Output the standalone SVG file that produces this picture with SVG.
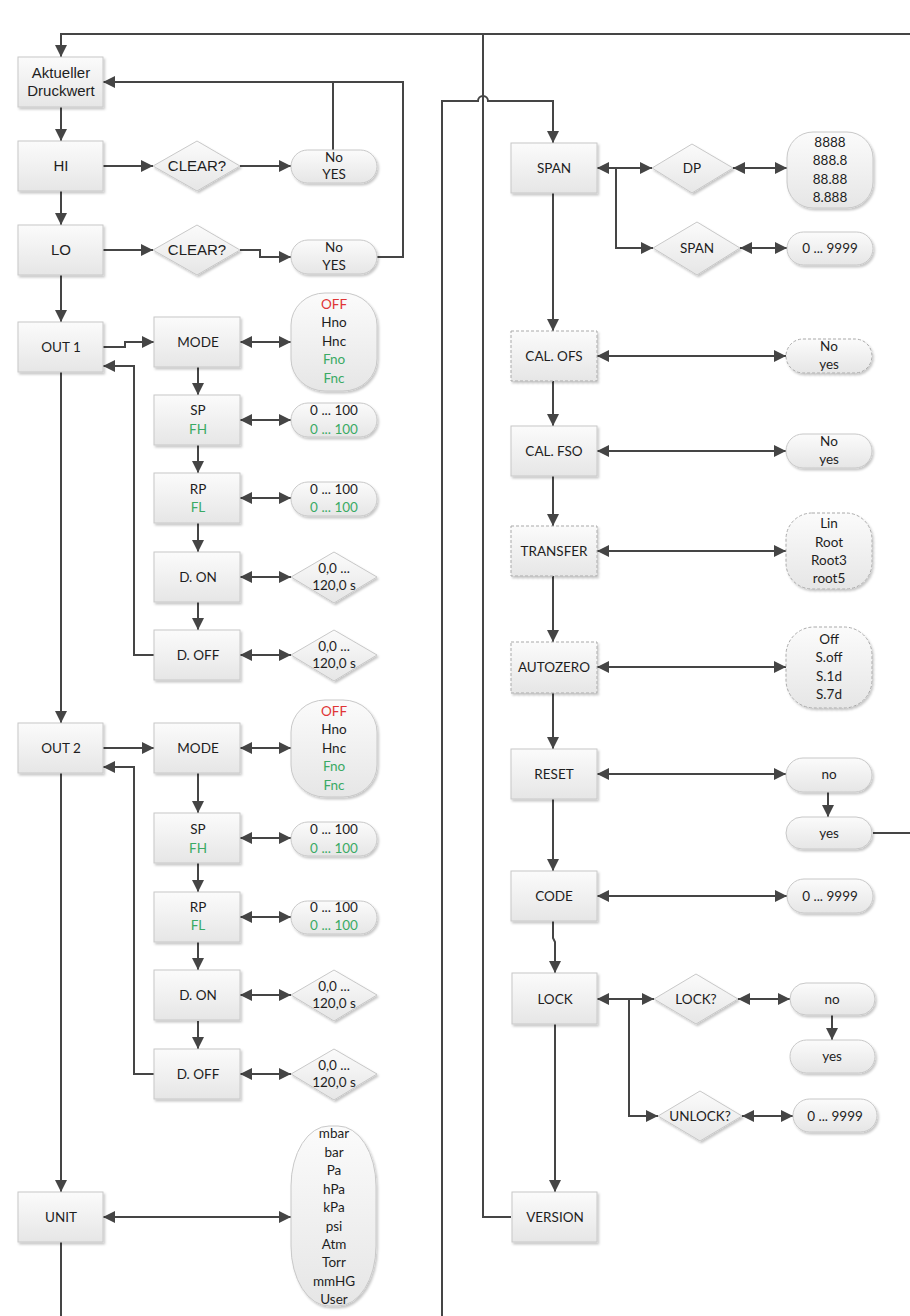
<svg xmlns="http://www.w3.org/2000/svg" width="910" height="1316" viewBox="0 0 910 1316">
<defs>
<linearGradient id="g" x1="0" y1="0" x2="0" y2="1"><stop offset="0" stop-color="#fbfbfb"/><stop offset="1" stop-color="#e6e6e6"/></linearGradient>
<filter id="sh" x="-10%" y="-10%" width="130%" height="140%"><feDropShadow dx="1.5" dy="2" stdDeviation="1.2" flood-color="#000" flood-opacity="0.22"/></filter>
<marker id="ah" viewBox="0 0 10 10" refX="10" refY="5" markerWidth="12" markerHeight="12" orient="auto-start-reverse" markerUnits="userSpaceOnUse"><path d="M0,0 L10,5 L0,10 z" fill="#454545"/></marker>
<style>
.b{fill:url(#g);stroke:#c8c8c8;stroke-width:1;filter:url(#sh)}
.d{stroke-dasharray:3 2;stroke:#aaa}
.c path{fill:none;stroke:#454545;stroke-width:2}
.t{font-family:Lato,"Open Sans",sans-serif;font-size:13.5px;fill:#1e1e1e;text-anchor:middle}
.a{font-family:"Liberation Sans",Arial,sans-serif;font-size:15px;fill:#1e1e1e;text-anchor:middle}
.r{fill:#e03535}
.gr{fill:#3aaa64}
</style>
</defs>
<g class="c" id="connectors">
<path d="M910,34 H61 V57" marker-end="url(#ah)"/>
<path d="M483,34 V1217 H511"/>
<path d="M442,1316 V101 H478 A5,5 0 0 1 488,101 H553 V143" marker-end="url(#ah)"/>
<path d="M61,107 V141" marker-end="url(#ah)"/>
<path d="M61,191 V225" marker-end="url(#ah)"/>
<path d="M61,275 V322" marker-end="url(#ah)"/>
<path d="M61,372 V723" marker-end="url(#ah)"/>
<path d="M61,773 V1192" marker-end="url(#ah)"/>
<path d="M61,1242 V1316"/>
<path d="M103,166 H153" marker-end="url(#ah)"/>
<path d="M240,166 H291" marker-end="url(#ah)"/>
<path d="M103,250 H153" marker-end="url(#ah)"/>
<path d="M240,250 H260 V257 H291" marker-end="url(#ah)"/>
<path d="M333,150 V82"/>
<path d="M377,257 H403 V82 H103" marker-end="url(#ah)"/>
<path d="M103,347 H125 V342 H154" marker-end="url(#ah)"/>
<path d="M154,655 H134 V366 H103" marker-end="url(#ah)"/>
<path d="M103,748 H154" marker-end="url(#ah)"/>
<path d="M154,1074 H134 V767 H103" marker-end="url(#ah)"/>
<path d="M240,342 H291" marker-start="url(#ah)" marker-end="url(#ah)"/>
<path d="M198,367 V395" marker-end="url(#ah)"/>
<path d="M240,420 H291" marker-start="url(#ah)" marker-end="url(#ah)"/>
<path d="M198,445 V473" marker-end="url(#ah)"/>
<path d="M240,498 H291" marker-start="url(#ah)" marker-end="url(#ah)"/>
<path d="M198,523 V552" marker-end="url(#ah)"/>
<path d="M240,577 H291" marker-start="url(#ah)" marker-end="url(#ah)"/>
<path d="M198,602 V630" marker-end="url(#ah)"/>
<path d="M240,655 H291" marker-start="url(#ah)" marker-end="url(#ah)"/>
<path d="M240,748 H291" marker-start="url(#ah)" marker-end="url(#ah)"/>
<path d="M198,773 V813" marker-end="url(#ah)"/>
<path d="M240,838 H291" marker-start="url(#ah)" marker-end="url(#ah)"/>
<path d="M198,863 V892" marker-end="url(#ah)"/>
<path d="M240,917 H291" marker-start="url(#ah)" marker-end="url(#ah)"/>
<path d="M198,942 V970" marker-end="url(#ah)"/>
<path d="M240,995 H291" marker-start="url(#ah)" marker-end="url(#ah)"/>
<path d="M198,1021 V1049" marker-end="url(#ah)"/>
<path d="M240,1074 H291" marker-start="url(#ah)" marker-end="url(#ah)"/>
<path d="M103,1217 H291" marker-start="url(#ah)" marker-end="url(#ah)"/>
<path d="M616,168 H597" marker-end="url(#ah)"/>
<path d="M616,168 H652" marker-end="url(#ah)"/>
<path d="M616,168 V248 H653" marker-end="url(#ah)"/>
<path d="M733,168 H787" marker-start="url(#ah)" marker-end="url(#ah)"/>
<path d="M740,248 H787" marker-start="url(#ah)" marker-end="url(#ah)"/>
<path d="M553,193 V331" marker-end="url(#ah)"/>
<path d="M597,356 H786" marker-start="url(#ah)" marker-end="url(#ah)"/>
<path d="M553,381 V426" marker-end="url(#ah)"/>
<path d="M597,451 H786" marker-start="url(#ah)" marker-end="url(#ah)"/>
<path d="M553,476 V526" marker-end="url(#ah)"/>
<path d="M597,551 H786" marker-start="url(#ah)" marker-end="url(#ah)"/>
<path d="M553,576 V642" marker-end="url(#ah)"/>
<path d="M597,667 H786" marker-start="url(#ah)" marker-end="url(#ah)"/>
<path d="M553,693 V749" marker-end="url(#ah)"/>
<path d="M597,774 H786" marker-start="url(#ah)" marker-end="url(#ah)"/>
<path d="M828,792 V817" marker-end="url(#ah)"/>
<path d="M873,833 H910"/>
<path d="M553,799 V871" marker-end="url(#ah)"/>
<path d="M597,896 H787" marker-start="url(#ah)" marker-end="url(#ah)"/>
<path d="M553,921 V938 L555,942 V973" marker-end="url(#ah)"/>
<path d="M629,999 H597" marker-end="url(#ah)"/>
<path d="M629,999 H654" marker-end="url(#ah)"/>
<path d="M629,999 V1116 H658" marker-end="url(#ah)"/>
<path d="M738,999 H790" marker-start="url(#ah)" marker-end="url(#ah)"/>
<path d="M832,1015 V1040" marker-end="url(#ah)"/>
<path d="M742,1116 H793" marker-start="url(#ah)" marker-end="url(#ah)"/>
<path d="M555,1024 V1192" marker-end="url(#ah)"/>
</g>

<g id="akt"><rect class="b" x="18" y="57" width="85" height="50"/><text class="a" x="61" y="78">Aktueller</text><text class="a" x="61" y="96">Druckwert</text></g>
<g id="hi"><rect class="b" x="18" y="141" width="85" height="50"/><text class="a" x="61" y="171">HI</text></g>
<g id="lo"><rect class="b" x="18" y="225" width="85" height="50"/><text class="a" x="61" y="255">LO</text></g>
<g id="clear1"><polygon class="b" points="153,166 197,141 240,166 197,191"/><text class="a" x="197" y="171">CLEAR?</text></g>
<g id="clear2"><polygon class="b" points="153,250 197,225 240,250 197,275"/><text class="a" x="197" y="255">CLEAR?</text></g>
<g id="noyes1"><rect class="b" x="291" y="150" width="86" height="33" rx="16.5"/><text class="t" x="334" y="162">No</text><text class="t" x="334" y="179">YES</text></g>
<g id="noyes2"><rect class="b" x="291" y="240" width="86" height="34" rx="17"/><text class="t" x="334" y="252">No</text><text class="t" x="334" y="270">YES</text></g>

<g id="out1"><rect class="b" x="18" y="322" width="85" height="50"/><text class="t" x="61" y="352">OUT 1</text></g>
<g id="mode1"><rect class="b" x="154" y="317" width="86" height="50"/><text class="t" x="198" y="347">MODE</text></g>
<g id="modes1"><rect class="b" x="291" y="293" width="86" height="98" rx="34" ry="32"/><text class="t r" x="334" y="309">OFF</text><text class="t" x="334" y="327">Hno</text><text class="t" x="334" y="346">Hnc</text><text class="t gr" x="334" y="364">Fno</text><text class="t gr" x="334" y="383">Fnc</text></g>
<g id="sp1"><rect class="b" x="154" y="395" width="86" height="50"/><text class="t" x="198" y="415">SP</text><text class="t gr" x="198" y="434">FH</text></g>
<g id="spv1"><rect class="b" x="291" y="403" width="86" height="34" rx="17"/><text class="t" x="334" y="415">0 ... 100</text><text class="t gr" x="334" y="434">0 ... 100</text></g>
<g id="rp1"><rect class="b" x="154" y="473" width="86" height="50"/><text class="t" x="198" y="494">RP</text><text class="t gr" x="198" y="512">FL</text></g>
<g id="rpv1"><rect class="b" x="291" y="482" width="86" height="34" rx="17"/><text class="t" x="334" y="494">0 ... 100</text><text class="t gr" x="334" y="512">0 ... 100</text></g>
<g id="don1"><rect class="b" x="154" y="552" width="86" height="50"/><text class="t" x="198" y="582">D. ON</text></g>
<g id="donv1"><polygon class="b" points="291,577 334,552 377,577 334,603"/><text class="t" x="334" y="573">0,0 ...</text><text class="t" x="334" y="590">120,0 s</text></g>
<g id="doff1"><rect class="b" x="154" y="630" width="86" height="50"/><text class="t" x="198" y="660">D. OFF</text></g>
<g id="doffv1"><polygon class="b" points="291,655 334,630 377,655 334,681"/><text class="t" x="334" y="651">0,0 ...</text><text class="t" x="334" y="668">120,0 s</text></g>

<g id="out2"><rect class="b" x="18" y="723" width="85" height="50"/><text class="t" x="61" y="753">OUT 2</text></g>
<g id="mode2"><rect class="b" x="154" y="723" width="86" height="50"/><text class="t" x="198" y="753">MODE</text></g>
<g id="modes2"><rect class="b" x="291" y="700" width="86" height="97" rx="34" ry="32"/><text class="t r" x="334" y="716">OFF</text><text class="t" x="334" y="734">Hno</text><text class="t" x="334" y="753">Hnc</text><text class="t gr" x="334" y="771">Fno</text><text class="t gr" x="334" y="790">Fnc</text></g>
<g id="sp2"><rect class="b" x="154" y="813" width="86" height="50"/><text class="t" x="198" y="834">SP</text><text class="t gr" x="198" y="853">FH</text></g>
<g id="spv2"><rect class="b" x="291" y="822" width="86" height="34" rx="17"/><text class="t" x="334" y="834">0 ... 100</text><text class="t gr" x="334" y="853">0 ... 100</text></g>
<g id="rp2"><rect class="b" x="154" y="892" width="86" height="50"/><text class="t" x="198" y="912">RP</text><text class="t gr" x="198" y="930">FL</text></g>
<g id="rpv2"><rect class="b" x="291" y="901" width="86" height="33" rx="16.5"/><text class="t" x="334" y="912">0 ... 100</text><text class="t gr" x="334" y="930">0 ... 100</text></g>
<g id="don2"><rect class="b" x="154" y="970" width="86" height="50"/><text class="t" x="198" y="1000">D. ON</text></g>
<g id="donv2"><polygon class="b" points="291,995 334,970 377,995 334,1021"/><text class="t" x="334" y="991">0,0 ...</text><text class="t" x="334" y="1008">120,0 s</text></g>
<g id="doff2"><rect class="b" x="154" y="1049" width="86" height="50"/><text class="t" x="198" y="1079">D. OFF</text></g>
<g id="doffv2"><polygon class="b" points="291,1074 334,1049 377,1074 334,1100"/><text class="t" x="334" y="1070">0,0 ...</text><text class="t" x="334" y="1087">120,0 s</text></g>

<g id="unit"><rect class="b" x="18" y="1192" width="85" height="50"/><text class="t" x="61" y="1222">UNIT</text></g>
<g id="units"><rect class="b" x="291" y="1126" width="85" height="180" rx="38" ry="60"/><text class="t" x="334" y="1138">mbar</text><text class="t" x="334" y="1157">bar</text><text class="t" x="334" y="1175">Pa</text><text class="t" x="334" y="1194">hPa</text><text class="t" x="334" y="1212">kPa</text><text class="t" x="334" y="1231">psi</text><text class="t" x="334" y="1249">Atm</text><text class="t" x="334" y="1267">Torr</text><text class="t" x="334" y="1286">mmHG</text><text class="t" x="334" y="1304">User</text></g>

<g id="span"><rect class="b" x="511" y="143" width="86" height="50"/><text class="t" x="554" y="173">SPAN</text></g>
<g id="dp"><polygon class="b" points="652,168 692,144 733,168 692,193"/><text class="t" x="692" y="173">DP</text></g>
<g id="dpv"><rect class="b" x="787" y="132" width="86" height="76" rx="26" ry="26"/><text class="t" x="830" y="147">8888</text><text class="t" x="830" y="165">888.8</text><text class="t" x="830" y="184">88.88</text><text class="t" x="830" y="202">8.888</text></g>
<g id="spand"><polygon class="b" points="653,248 697,222 740,248 697,275"/><text class="t" x="697" y="253">SPAN</text></g>
<g id="spanv"><rect class="b" x="787" y="232" width="86" height="33" rx="16.5"/><text class="t" x="830" y="253">0 ... 9999</text></g>
<g id="calofs"><rect class="b d" x="511" y="331" width="86" height="50"/><text class="t" x="554" y="361">CAL. OFS</text></g>
<g id="calofsv"><rect class="b d" x="786" y="339" width="86" height="34" rx="17"/><text class="t" x="829" y="351">No</text><text class="t" x="829" y="369">yes</text></g>
<g id="calfso"><rect class="b" x="511" y="426" width="86" height="50"/><text class="t" x="554" y="456">CAL. FSO</text></g>
<g id="calfsov"><rect class="b" x="786" y="434" width="86" height="34" rx="17"/><text class="t" x="829" y="446">No</text><text class="t" x="829" y="464">yes</text></g>
<g id="transfer"><rect class="b d" x="511" y="526" width="86" height="50"/><text class="t" x="554" y="556">TRANSFER</text></g>
<g id="transferv"><rect class="b d" x="786" y="513" width="86" height="76" rx="26" ry="26"/><text class="t" x="829" y="528">Lin</text><text class="t" x="829" y="547">Root</text><text class="t" x="829" y="565">Root3</text><text class="t" x="829" y="583">root5</text></g>
<g id="autozero"><rect class="b d" x="511" y="642" width="86" height="51"/><text class="t" x="554" y="672">AUTOZERO</text></g>
<g id="autozerov"><rect class="b d" x="786" y="627" width="86" height="81" rx="28" ry="28"/><text class="t" x="829" y="644">Off</text><text class="t" x="829" y="662">S.off</text><text class="t" x="829" y="681">S.1d</text><text class="t" x="829" y="699">S.7d</text></g>
<g id="reset"><rect class="b" x="511" y="749" width="86" height="50"/><text class="t" x="554" y="779">RESET</text></g>
<g id="resetno"><rect class="b" x="786" y="758" width="86" height="34" rx="17"/><text class="t" x="829" y="779">no</text></g>
<g id="resetyes"><rect class="b" x="786" y="817" width="86" height="32" rx="16"/><text class="t" x="829" y="838">yes</text></g>
<g id="code"><rect class="b" x="511" y="871" width="86" height="50"/><text class="t" x="554" y="901">CODE</text></g>
<g id="codev"><rect class="b" x="787" y="879" width="86" height="34" rx="17"/><text class="t" x="830" y="901">0 ... 9999</text></g>
<g id="lock"><rect class="b" x="512" y="973" width="85" height="51"/><text class="t" x="555" y="1004">LOCK</text></g>
<g id="lockq"><polygon class="b" points="654,999 696,974 738,999 696,1024"/><text class="t" x="696" y="1004">LOCK?</text></g>
<g id="lockno"><rect class="b" x="790" y="983" width="85" height="32" rx="16"/><text class="t" x="832" y="1004">no</text></g>
<g id="lockyes"><rect class="b" x="790" y="1040" width="85" height="33" rx="16.5"/><text class="t" x="832" y="1061">yes</text></g>
<g id="unlockq"><polygon class="b" points="658,1116 700,1091 742,1116 700,1141"/><text class="t" x="700" y="1121">UNLOCK?</text></g>
<g id="unlockv"><rect class="b" x="793" y="1099" width="84" height="33" rx="16.5"/><text class="t" x="835" y="1121">0 ... 9999</text></g>
<g id="version"><rect class="b" x="512" y="1192" width="85" height="50"/><text class="t" x="555" y="1222">VERSION</text></g>
</svg>
